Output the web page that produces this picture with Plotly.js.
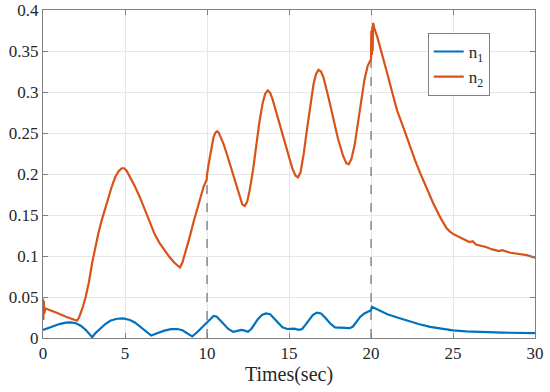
<!DOCTYPE html>
<html>
<head>
<meta charset="utf-8">
<script src="https://cdn.plot.ly/plotly-3.0.1.min.js"></script>
<style>html,body{margin:0;padding:0;background:#fff}#chart{width:550px;height:392px}
#chart text{font-family:"Liberation Serif","Times New Roman",serif !important;}</style>
</head>
<body>
<div id="chart"></div>
<script>
// n2 (orange) series
const n2Time = [0,0.02,0.05,0.08,0.15,0.3,0.8,1.4,2.07,2.2,2.4,2.6,2.8,3.0,3.2,3.4,3.6,3.8,4.0,4.2,4.4,4.6,4.8,4.95,5.1,5.3,5.6,5.9,6.2,6.5,6.8,7.1,7.4,7.7,8.0,8.2,8.35,8.5,8.7,8.9,9.2,9.4,9.6,9.8,9.98,10.0,10.1,10.2,10.3,10.4,10.5,10.6,10.7,10.8,11.0,11.2,11.4,11.6,11.8,12.0,12.15,12.3,12.45,12.6,12.8,13.0,13.2,13.4,13.55,13.7,13.85,14.0,14.3,14.6,14.9,15.2,15.4,15.55,15.7,15.9,16.1,16.3,16.5,16.65,16.8,16.95,17.1,17.4,17.7,18.0,18.3,18.5,18.65,18.8,19.0,19.2,19.4,19.6,19.8,19.95,20.0,20.02,20.05,20.08,20.1,20.13,20.2,20.4,20.7,21.0,21.3,21.6,21.95,22.3,22.7,23.0,23.4,23.8,24.2,24.6,24.8,25.0,25.5,26.0,26.2,26.4,27.0,27.4,27.8,28.0,28.5,28.9,29.5,30.0];
const n2Vals = [0.048,0.022,0.045,0.030,0.036,0.035,0.031,0.026,0.021,0.025,0.036,0.050,0.068,0.092,0.112,0.130,0.145,0.159,0.172,0.185,0.196,0.203,0.207,0.207,0.204,0.197,0.185,0.172,0.157,0.141,0.127,0.116,0.107,0.099,0.092,0.088,0.086,0.092,0.105,0.120,0.143,0.158,0.172,0.185,0.193,0.199,0.212,0.225,0.236,0.245,0.250,0.252,0.251,0.247,0.237,0.225,0.212,0.198,0.184,0.171,0.163,0.161,0.166,0.180,0.204,0.234,0.264,0.287,0.298,0.302,0.299,0.291,0.270,0.248,0.226,0.207,0.198,0.196,0.202,0.225,0.255,0.286,0.310,0.322,0.327,0.325,0.318,0.294,0.268,0.242,0.222,0.213,0.212,0.218,0.235,0.262,0.290,0.315,0.332,0.337,0.340,0.375,0.345,0.380,0.350,0.384,0.378,0.366,0.345,0.322,0.299,0.277,0.258,0.238,0.216,0.201,0.182,0.164,0.148,0.134,0.130,0.127,0.122,0.117,0.118,0.114,0.111,0.108,0.106,0.107,0.104,0.103,0.101,0.098];
// n1 (blue) series
const n1Time = [0,0.5,1.0,1.4,1.7,2.0,2.3,2.6,2.8,3.0,3.2,3.5,3.8,4.1,4.5,4.9,5.3,5.6,5.9,6.2,6.6,7.0,7.4,7.8,8.2,8.5,8.8,9.1,9.4,9.7,10.0,10.2,10.4,10.6,10.8,11.0,11.3,11.6,11.85,12.1,12.3,12.5,12.7,12.9,13.1,13.35,13.6,13.85,14.1,14.35,14.6,14.9,15.3,15.6,15.8,16.0,16.2,16.45,16.7,16.95,17.2,17.5,17.8,18.1,18.4,18.7,18.9,19.1,19.35,19.6,19.95,20.0,20.05,20.5,21.0,21.6,22.2,22.9,23.6,24.3,25.0,25.8,26.6,28.0,30.0];
const n1Vals = [0.0098,0.0135,0.017,0.0188,0.019,0.018,0.015,0.010,0.006,0.001,0.006,0.012,0.017,0.021,0.0235,0.024,0.022,0.019,0.014,0.009,0.003,0.006,0.009,0.0108,0.011,0.0095,0.006,0.002,0.007,0.013,0.018,0.023,0.027,0.026,0.022,0.017,0.011,0.0075,0.009,0.0098,0.009,0.0075,0.011,0.017,0.023,0.028,0.030,0.029,0.024,0.018,0.013,0.011,0.0115,0.010,0.011,0.016,0.022,0.028,0.031,0.030,0.025,0.018,0.013,0.0128,0.013,0.012,0.014,0.020,0.026,0.030,0.033,0.034,0.038,0.034,0.029,0.025,0.021,0.017,0.0135,0.011,0.0092,0.008,0.0072,0.0065,0.006];
// dashed markers
const markTimes = [10, 20];
const markTops = [0.198, 0.340];
const xTicks = [0,5,10,15,20,25,30];
const yTicks = [0,0.05,0.1,0.15,0.2,0.25,0.3,0.35,0.4];
const yTickText = ['0','0.05','0.1','0.15','0.2','0.25','0.3','0.35','0.4'];

const traces = [];
markTimes.forEach((t,i)=>{
  traces.push({x:[t,t], y:[0, markTops[i]], mode:'lines', showlegend:false, hoverinfo:'skip',
    line:{color:'#555555', width:1, dash:'dash'}});
});
traces.push({x:n1Time, y:n1Vals, mode:'lines', name:'n<sub>1</sub>', line:{color:'#0072BD', width:2.2}});
traces.push({x:n2Time, y:n2Vals, mode:'lines', name:'n<sub>2</sub>', line:{color:'#D95319', width:2.2}});

const font = 'Times New Roman, Liberation Serif, serif';
const layout = {
  width:550, height:392,
  margin:{l:43, r:15, t:10, b:54},
  paper_bgcolor:'#fff', plot_bgcolor:'#fff',
  font:{family:font, size:17, color:'#262626'},
  xaxis:{range:[0,30], tickvals:xTicks, ticks:'inside', ticklen:5, tickcolor:'#808080',
    showline:true, linecolor:'#808080', linewidth:1, mirror:'ticks',
    showgrid:true, gridcolor:'#e6e6e6', zeroline:false,
    tickfont:{family:font, size:17, color:'#262626'},
    title:{text:'Times(sec)', font:{family:font, size:20, color:'#262626'}, standoff:4}},
  yaxis:{range:[0,0.4], tickvals:yTicks, ticktext:yTickText, ticks:'inside', ticklen:5, tickcolor:'#808080',
    showline:true, linecolor:'#808080', linewidth:1, mirror:'ticks',
    showgrid:true, gridcolor:'#e6e6e6', zeroline:false,
    tickfont:{family:font, size:17, color:'#262626'}},
  legend:{x:0.782, y:0.93, xanchor:'left', yanchor:'top', bgcolor:'#fff', bordercolor:'#808080', borderwidth:1,
    font:{family:font, size:17, color:'#262626'}, itemwidth:30, tracegroupgap:0},
  showlegend:true
};
Plotly.newPlot('chart', traces, layout, {staticPlot:true, displayModeBar:false});
</script>
</body>
</html>
